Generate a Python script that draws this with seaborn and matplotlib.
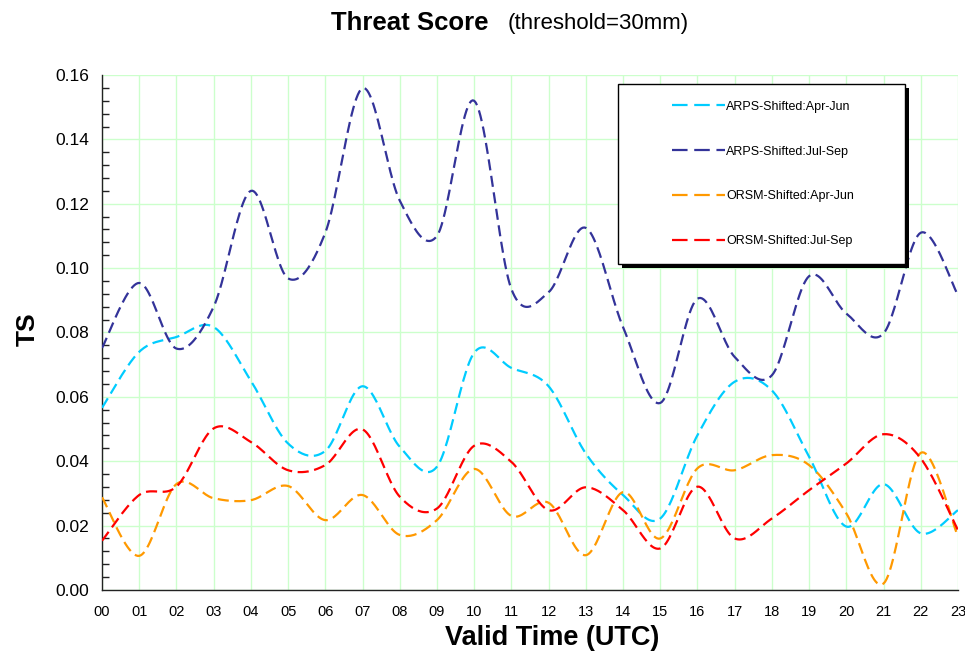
import numpy as np
import pandas as pd
import matplotlib
matplotlib.use("Agg")
import matplotlib.pyplot as plt
from matplotlib.lines import Line2D
from matplotlib.patches import Rectangle
import seaborn as sns

# ---------------- data ----------------
hours = list(range(24))
hour_labels = [f"{h:02d}" for h in hours]

arps_apr_jun = [0.0566, 0.0740, 0.0786, 0.0817, 0.0650, 0.0455, 0.0432, 0.0633,
                0.0445, 0.0383, 0.0737, 0.0690, 0.0633, 0.0424, 0.0295, 0.0222,
                0.0481, 0.0647, 0.0620, 0.0414, 0.0197, 0.0329, 0.0176, 0.0248]
arps_jul_sep = [0.0752, 0.0954, 0.0750, 0.0880, 0.1240, 0.0968, 0.1110, 0.1559,
                0.1210, 0.1100, 0.1520, 0.0935, 0.0925, 0.1125, 0.0817, 0.0581,
                0.0905, 0.0724, 0.0667, 0.0975, 0.0859, 0.0797, 0.1110, 0.0916]
orsm_apr_jun = [0.0288, 0.0106, 0.0329, 0.0285, 0.0279, 0.0323, 0.0217, 0.0295,
                0.0171, 0.0217, 0.0376, 0.0230, 0.0271, 0.0108, 0.0304, 0.0160,
                0.0378, 0.0372, 0.0419, 0.0388, 0.0238, 0.0020, 0.0426, 0.0166]
orsm_jul_sep = [0.0153, 0.0295, 0.0321, 0.0502, 0.0460, 0.0372, 0.0388, 0.0499,
                0.0290, 0.0253, 0.0448, 0.0398, 0.0248, 0.0319, 0.0248, 0.0129,
                0.0321, 0.0160, 0.0222, 0.0310, 0.0393, 0.0484, 0.0409, 0.0186]

series_names = ["ARPS-Shifted:Apr-Jun", "ARPS-Shifted:Jul-Sep",
                "ORSM-Shifted:Apr-Jun", "ORSM-Shifted:Jul-Sep"]
series_values = [arps_apr_jun, arps_jul_sep, orsm_apr_jun, orsm_jul_sep]
series_colors = ["#00CCFF", "#333399", "#FF9900", "#FF0000"]

y_ticks = [0.00, 0.02, 0.04, 0.06, 0.08, 0.10, 0.12, 0.14, 0.16]


def smooth_curve(x, y, steps=24):
    """Excel-style smoothed line (Catmull-Rom Bezier) through the points."""
    x = np.asarray(x, float)
    y = np.asarray(y, float)
    px = np.concatenate([[x[0]], x, [x[-1]]])
    py = np.concatenate([[y[0]], y, [y[-1]]])
    xs, ys = [], []
    t = np.linspace(0, 1, steps, endpoint=False)
    for i in range(1, len(px) - 2):
        p0 = np.array([px[i], py[i]])
        p3 = np.array([px[i + 1], py[i + 1]])
        c1 = p0 + (p3 - np.array([px[i - 1], py[i - 1]])) / 6.0
        c2 = p3 - (np.array([px[i + 2], py[i + 2]]) - p0) / 6.0
        b = ((1 - t) ** 3)[:, None] * p0 + (3 * (1 - t) ** 2 * t)[:, None] * c1 \
            + (3 * (1 - t) * t ** 2)[:, None] * c2 + (t ** 3)[:, None] * p3
        xs.extend(b[:, 0])
        ys.extend(b[:, 1])
    xs.append(x[-1])
    ys.append(y[-1])
    return np.array(xs), np.array(ys)


# ---------------- style ----------------
sns.set_style("white")
plt.rcParams["font.family"] = ["Liberation Sans", "DejaVu Sans"]
plt.rcParams["text.color"] = "black"
plt.rcParams["axes.labelcolor"] = "black"
plt.rcParams["xtick.color"] = "black"
plt.rcParams["ytick.color"] = "black"

fig = plt.figure(figsize=(9.65, 6.62), dpi=100)
ax = fig.add_axes([0.1057, 0.1088, 0.8870, 0.7779])

for name, vals, col in zip(series_names, series_values, series_colors):
    sx, sy = smooth_curve(hours, vals)
    df = pd.DataFrame({"hour": sx, "ts": sy})
    sns.lineplot(data=df, x="hour", y="ts", ax=ax, color=col, linewidth=1.6,
                 sort=False, estimator=None, legend=False)
    ln = ax.lines[-1]
    ln.set_dashes((5, 2.5))
    ln.set_zorder(3)

ax.set_xlim(0, 23)
ax.set_ylim(0, 0.16)
ax.set_xticks(hours)
ax.set_xticklabels(hour_labels, fontsize=10.5)
ax.set_yticks(y_ticks)
ax.set_yticklabels([f"{v:.2f}" for v in y_ticks], fontsize=12.5)
ax.yaxis.set_minor_locator(matplotlib.ticker.MultipleLocator(0.004))

ax.grid(True, which="major", color="#CCFFCC", linewidth=1.0, zorder=0)
ax.set_axisbelow(True)

for s in ["top", "right"]:
    ax.spines[s].set_visible(False)
for s in ["left", "bottom"]:
    ax.spines[s].set_color("#222222")
    ax.spines[s].set_linewidth(1.0)

ax.tick_params(axis="x", which="major", direction="out", length=5, width=1,
               color="#222222", labelcolor="black", pad=6)
ax.tick_params(axis="y", which="major", direction="inout", length=10, width=1,
               color="#222222", labelcolor="black", pad=4)
ax.tick_params(axis="y", which="minor", direction="in", length=5, width=1,
               color="#222222", left=True)

ax.set_xlabel("")
ax.set_ylabel("")
fig.text(0.5725, 0.037, "Valid Time (UTC)", fontsize=19.5, fontweight="bold",
         ha="center", va="center", color="black")
fig.text(0.029, 0.502, "TS", fontsize=19, fontweight="bold", rotation=90,
         ha="center", va="center", color="black")

# title
fig.text(0.5067, 0.966, "Threat Score", fontsize=18.5, fontweight="bold",
         ha="right", va="center", color="black")
fig.text(0.5264, 0.964, "(threshold=30mm)", fontsize=16, ha="left",
         va="center", color="black")

# legend box with shadow
bx, by, bw, bh = 0.603, 0.633, 0.335, 0.3495
shadow = Rectangle((bx + 0.0047, by - 0.0078), bw, bh, transform=ax.transAxes,
                   facecolor="#000000", edgecolor="none", zorder=5, clip_on=False)
box = Rectangle((bx, by), bw, bh, transform=ax.transAxes, facecolor="white",
                edgecolor="#000000", linewidth=1.0, zorder=6, clip_on=False)
ax.add_patch(shadow)
ax.add_patch(box)

handles = [Line2D([0], [0], color=c, linewidth=1.6, dashes=(7, 3))
           for c in series_colors]
leg = ax.legend(handles, series_names, loc="center left",
                bbox_to_anchor=(0.659, 0.808), frameon=False, fontsize=9,
                handlelength=4.2, handletextpad=0.1, labelspacing=2.62,
                borderpad=0)
for t in leg.get_texts():
    t.set_color("black")
leg.set_zorder(7)

fig.savefig("out.png", dpi=100)
